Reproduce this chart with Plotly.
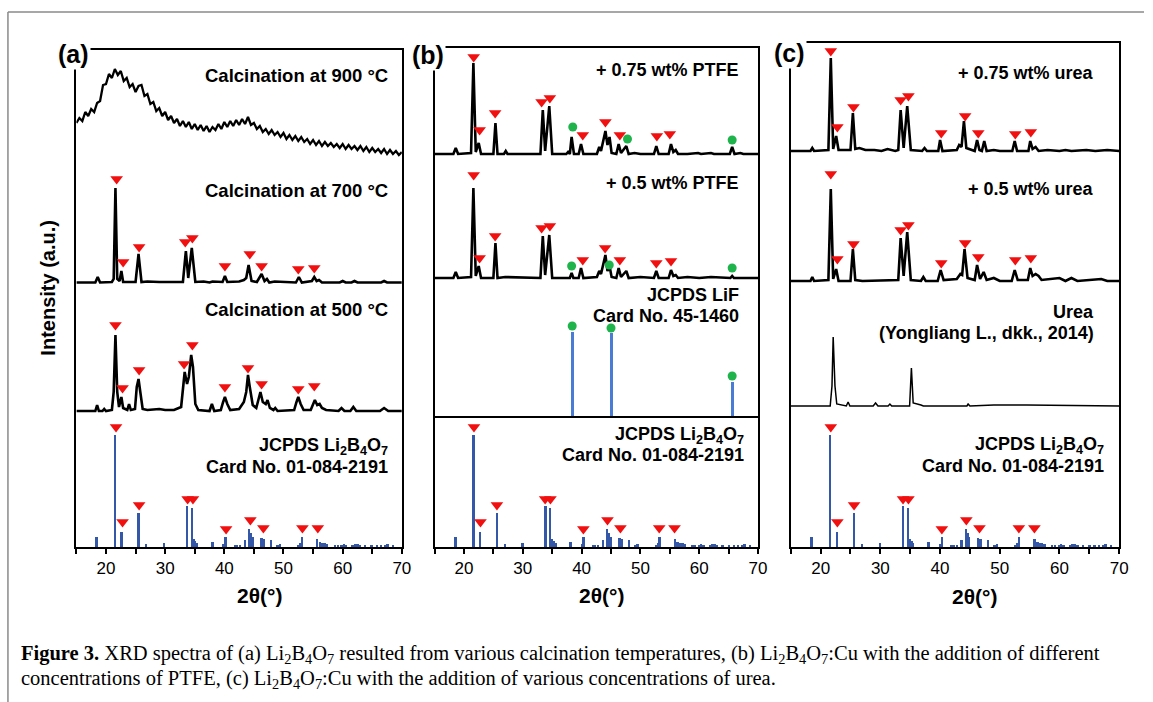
import numpy as np
import plotly.graph_objects as go

W, H = 1153, 702

# ------------------------------------------------------------------ data
angle_ticks = [20, 30, 40, 50, 60, 70]

# JCPDS Li2B4O7 card 01-084-2191 : (2theta, relative intensity)
jcpds_li2b4o7_sticks = [(18.5, 10), (21.6, 112), (22.7, 15), (25.6, 34), (26.9, 3), (29.9, 4),
                        (33.8, 41), (34.6, 39), (34.9, 8), (35.2, 6), (35.5, 4), (38.1, 5),
                        (40.0, 3), (40.3, 10), (41.9, 2), (42.3, 2), (42.8, 2), (43.6, 7),
                        (44.3, 18), (44.6, 14), (44.9, 10), (46.4, 9), (46.8, 8), (48.0, 7),
                        (49.1, 2), (49.5, 3), (52.6, 2), (53.0, 4), (53.2, 10), (55.8, 8),
                        (56.3, 5), (56.7, 4), (57.1, 4), (57.5, 3), (58.8, 2), (59.3, 2),
                        (59.9, 2), (60.3, 3), (60.7, 2), (61.8, 2), (62.2, 3), (62.6, 3),
                        (63.0, 2), (63.9, 2), (65.0, 2), (65.9, 2), (66.6, 2), (67.3, 2),
                        (67.7, 3), (68.6, 2)]
jcpds_li2b4o7_marks = [(21.7, 120), (22.8, 25), (25.6, 42), (33.8, 48), (34.7, 48),
                       (40.3, 18), (44.4, 27), (46.6, 19), (53.2, 19), (55.8, 19)]

# JCPDS LiF card 45-1460
jcpds_lif_sticks = [(38.4, 85), (45.0, 84), (65.6, 35)]
jcpds_lif_marks = [(38.4, 91), (45.0, 89), (65.6, 41)]

# (a) calcination at 900 C : amorphous, sampled every 0.5 deg from 15 deg
calc900_start, calc900_step = 15.0, 0.5
calc900_values = [44, 49, 46, 55, 51, 58, 55, 64, 66, 82, 83, 93, 89, 98, 92, 96, 86, 89, 80, 83,
                  75, 81, 82, 71, 73, 63, 65, 56, 59, 51, 55, 47, 51, 44, 48, 41, 46, 40, 45, 38,
                  43, 37, 42, 36, 41, 35, 40, 37, 43, 38, 45, 40, 46, 41, 47, 42, 48, 43, 50, 42,
                  44, 38, 41, 35, 38, 33, 37, 32, 35, 30, 34, 28, 32, 27, 31, 26, 30, 25, 28, 23,
                  27, 22, 26, 21, 25, 21, 24, 20, 23, 19, 23, 18, 22, 18, 21, 17, 21, 16, 20, 15,
                  19, 15, 18, 14, 18, 13, 17, 13, 16, 12, 15]

calc700 = [(15, 0.5), (18.2, 0.5), (18.6, 6), (19.0, 0.5), (21.0, 1), (21.3, 4), (21.6, 95), (21.9, 4),
           (22.3, 2), (22.6, 12), (22.9, 1), (25.0, 1), (25.5, 29), (26.0, 1), (27.0, 1.5), (29, 1),
           (33.0, 1), (33.5, 32), (33.9, 5), (34.5, 35), (35.1, 1), (36.5, 1.5), (37.5, 0.5),
           (38.0, 1.5), (39.7, 1), (40.1, 7), (40.5, 1), (42.5, 1.5), (43.3, 3), (43.7, 5),
           (44.1, 18), (44.6, 2), (45.5, 1), (46.3, 9), (46.8, 2), (47.2, 4), (47.6, 0.5), (48.5, 1.5),
           (52.1, 0.5), (52.6, 6), (53.1, 0.5), (54.8, 2), (55.2, 6), (55.6, 2), (56.0, 3), (56.5, 0.5),
           (59.5, 0.5), (60.0, 2), (60.5, 0.5), (61.5, 0.5), (62.0, 2), (62.5, 0.5), (66.5, 0.5),
           (67.0, 2), (67.5, 0.5), (70, 0.5)]
calc700_marks = [(21.8, 104), (22.9, 21), (25.6, 36), (33.4, 41), (34.6, 45), (40.1, 17),
                 (44.3, 29), (46.3, 17), (52.5, 14), (55.2, 15)]

calc500 = [(15, 1), (17, 1), (18.2, 1), (18.5, 7), (18.8, 1), (19.4, 1), (19.7, 3), (20.0, 1), (21.0, 2),
           (21.3, 20), (21.6, 77), (21.9, 20), (22.2, 5), (22.6, 15), (22.9, 4), (23.6, 2), (23.9, 8),
           (24.2, 2), (24.9, 3), (25.2, 25), (25.5, 33), (25.8, 20), (26.2, 3), (27, 2), (29, 3), (30, 2),
           (31.5, 2), (32.7, 5), (33.0, 25), (33.3, 40), (33.7, 28), (34.0, 35), (34.4, 57), (34.7, 45),
           (35.1, 8), (35.6, 2), (37.5, 1), (37.9, 8), (38.3, 1), (39.4, 2), (39.8, 10), (40.1, 15),
           (40.5, 8), (41.0, 2), (42.5, 3), (43.0, 8), (43.3, 10), (43.7, 20), (44.0, 37), (44.3, 25),
           (44.8, 7), (45.4, 4), (45.8, 12), (46.1, 20), (46.5, 10), (47.0, 8), (47.3, 12), (47.7, 4),
           (48.3, 2), (48.6, 4), (49.0, 1), (51.8, 2), (52.2, 10), (52.5, 15), (52.9, 8), (53.4, 2),
           (54.6, 2), (55.0, 8), (55.3, 12), (55.7, 7), (56.1, 8), (56.5, 4), (57.2, 2), (59.3, 1),
           (59.8, 4), (60.3, 1), (61.3, 1), (61.8, 5), (62.3, 1), (66.3, 1), (67.0, 4), (67.7, 1), (70, 1)]
calc500_marks = [(21.6, 87), (22.8, 24), (25.6, 42), (33.2, 48), (34.6, 67), (40.1, 25),
                 (44.0, 44), (46.3, 28), (52.5, 23), (55.2, 26)]

# (b) PTFE
ptfe075 = [(15, 1), (18.2, 1), (18.6, 7), (19.0, 1), (21.2, 2), (21.6, 92), (22.0, 3), (22.5, 12), (22.9, 1),
           (25.0, 1), (25.35, 32), (25.7, 1), (26.8, 1), (27.1, 4), (27.4, 1), (33.0, 1), (33.4, 45),
           (33.8, 4), (34.5, 49), (35.0, 1), (37.4, 1), (37.7, 3), (38.0, 1), (38.3, 18), (38.7, 1),
           (39.5, 1), (39.9, 11), (40.3, 1), (42.6, 1), (43.0, 8), (43.3, 4), (44.05, 24), (44.4, 10),
           (44.75, 18), (45.1, 2), (45.9, 1), (46.3, 11), (46.7, 2), (47.6, 9), (48.0, 1), (49, 2),
           (50, 1), (52.3, 1), (52.7, 9), (53.1, 1), (54.8, 1), (55.2, 11), (55.6, 3), (56.0, 5),
           (56.4, 1), (58, 1), (59.8, 2), (60.3, 1), (62, 2), (62.5, 1), (65.2, 1), (65.6, 8), (66.0, 1),
           (67, 2), (67.5, 1), (70, 1)]
ptfe075_marks = [(21.65, 98), (22.66, 25), (25.3, 42), (33.2, 53), (34.6, 57), (40.2, 20),
                 (44.05, 33), (46.5, 20), (52.8, 19), (55.0, 21)]
ptfe075_lif = [(38.5, 28), (47.8, 16), (65.6, 15)]

ptfe050 = [(15, 1), (18.2, 1), (18.6, 7), (19.0, 1), (21.2, 2), (21.6, 91), (22.0, 3), (22.5, 13), (22.9, 1),
           (25.0, 1), (25.35, 36), (25.7, 1), (27, 2), (33.0, 1), (33.4, 43), (33.8, 4), (34.5, 44),
           (35.0, 1), (38.0, 1), (38.3, 6), (38.6, 1), (39.5, 1), (39.9, 11), (40.3, 1), (42.6, 2),
           (43.0, 8), (43.3, 5), (44.05, 24), (44.4, 8), (44.75, 13), (45.1, 2), (45.9, 1), (46.3, 11),
           (46.7, 2), (47.6, 8), (48.0, 1), (50, 2), (52.3, 1), (52.7, 8), (53.1, 1), (54.8, 1), (55.2, 9),
           (55.6, 3), (56.0, 4), (56.4, 1), (58, 2), (60, 1), (62, 2), (65.3, 1), (65.6, 3), (65.9, 1), (70, 1)]
ptfe050_marks = [(21.65, 104), (22.66, 21), (25.3, 43), (33.2, 51), (34.6, 53), (40.2, 19),
                 (44.0, 31), (46.5, 19), (52.7, 16), (55.2, 18)]
ptfe050_lif = [(38.3, 13), (44.7, 14), (65.6, 11)]

# (c) urea
urea075 = [(15, 2), (18.3, 2), (18.6, 5), (18.9, 2), (21.3, 3), (21.7, 95), (22.1, 4), (22.6, 17), (23.0, 3),
           (25.0, 3), (25.4, 40), (25.8, 4), (26.5, 5), (27.5, 3), (29, 3), (30.2, 2), (31.2, 4), (32.5, 2),
           (33.0, 3), (33.4, 43), (33.9, 5), (34.5, 47), (35.1, 3), (37, 2), (37.4, 5), (37.8, 2),
           (39.7, 2), (40.0, 13), (40.4, 2), (42.8, 3), (43.2, 8), (43.6, 6), (44.0, 32), (44.4, 5),
           (45.8, 2), (46.2, 13), (46.6, 3), (47.0, 2), (47.4, 12), (47.8, 2), (49, 3), (50, 2), (52.1, 2),
           (52.5, 12), (52.9, 2), (54.8, 2), (55.1, 12), (55.5, 4), (56, 6), (56.5, 2), (58, 3), (60, 2),
           (61, 3), (62, 2), (64.5, 3), (66, 2), (68, 3), (70, 2)]
urea075_marks = [(21.7, 102), (22.8, 26), (25.5, 46), (33.4, 53), (34.7, 57), (40.2, 20),
                 (44.2, 37), (46.4, 20), (52.6, 19), (55.2, 21)]

urea050 = [(15, 1), (18.3, 1), (18.6, 5), (18.9, 1), (21.3, 2), (21.7, 93), (22.1, 3), (22.6, 13), (23.0, 1),
           (25.0, 1), (25.4, 33), (25.8, 2), (27, 1), (33.0, 2), (33.4, 44), (33.9, 6), (34.5, 50), (35.1, 2),
           (36.8, 1), (37.2, 5), (37.6, 1), (39.6, 1), (40.1, 12), (40.6, 2), (42.8, 3), (43.4, 8),
           (43.7, 7), (44.1, 33), (44.6, 4), (45.8, 2), (46.2, 17), (46.7, 3), (47.3, 10), (47.8, 2),
           (49, 4), (50, 1), (52.0, 1), (52.5, 12), (53.0, 2), (54.7, 2), (55.1, 14), (55.5, 6), (56, 8),
           (56.5, 6), (57, 2), (60, 4), (61, 1), (62, 4), (63, 1), (67, 3), (68, 1), (70, 1)]
urea050_marks = [(21.7, 108), (22.8, 23), (25.5, 38), (33.4, 52), (34.7, 57), (40.2, 19),
                 (44.2, 39), (46.4, 25), (52.6, 22), (55.2, 24)]

urea_ref = [(15, 0), (21.6, 0), (21.9, 20), (22.1, 69), (22.4, 20), (22.7, 2), (24.3, 0), (24.6, 4),
            (24.9, 0), (28.8, 0), (29.2, 3), (29.6, 0), (31.3, 0), (31.6, 2), (31.9, 0), (34.9, 0),
            (35.2, 38), (35.5, 3), (36.8, 1), (37.2, 0), (44.5, 0), (44.7, 2), (45, 0), (49, 1),
            (54.5, 1), (70, 0)]

# ------------------------------------------------------------------ layout geometry (pixels)
panels = {
    'a': dict(x='x', y='y', left=77, right=405, top=50, bottom=547),
    'b': dict(x='x2', y='y2', left=438, right=764, top=48, bottom=547),
    'c': dict(x='x3', y='y3', left=797, right=1128, top=43, bottom=547),
}
# vertical offsets of each pattern (axis units = pixels above the bottom axis)
offsets = {
    'a900': 380, 'a700': 264, 'a500': 135, 'a_jc': 0,
    'b075': 392, 'b050': 268, 'b_lif': 130, 'b_jc': 0,
    'c075': 394, 'c050': 265, 'c_urea': 141, 'c_jc': 0,
}

BLACK = 'black'
RED = '#f01010'
GREEN = '#1fb34c'
STICK_BLUE = '#3557a8'
LIF_BLUE = '#4a7cd3'
LINE_W = 2.6

fig = go.Figure()


def add_line(xs, ys, off, p, width=LINE_W, color=BLACK):
    fig.add_trace(go.Scatter(x=list(xs), y=[off + v for v in ys], mode='lines',
                             line=dict(color=color, width=width), xaxis=panels[p]['x'],
                             yaxis=panels[p]['y'], showlegend=False, hoverinfo='skip'))


def add_pattern(pairs, off, p, width=LINE_W):
    add_line([a for a, _ in pairs], [b for _, b in pairs], off, p, width)


def add_marks(pairs, off, p, symbol='triangle-down', color=RED, size=11):
    fig.add_trace(go.Scatter(x=[a for a, _ in pairs], y=[off + b for _, b in pairs], mode='markers',
                             marker=dict(symbol=symbol, color=color, size=size, line=dict(width=0)),
                             xaxis=panels[p]['x'], yaxis=panels[p]['y'], cliponaxis=False,
                             showlegend=False, hoverinfo='skip'))


def add_sticks(pairs, off, p, color, width):
    fig.add_trace(go.Bar(x=[a for a, _ in pairs], y=[b for _, b in pairs], base=off, width=width,
                         marker=dict(color=color, line=dict(width=0)), xaxis=panels[p]['x'],
                         yaxis=panels[p]['y'], showlegend=False, hoverinfo='skip'))


# panel (a)
calc900_x = calc900_start + calc900_step * np.arange(len(calc900_values))
add_line(calc900_x, calc900_values, offsets['a900'], 'a', width=2.3)
add_pattern(calc700, offsets['a700'], 'a')
add_marks(calc700_marks, offsets['a700'], 'a')
add_pattern(calc500, offsets['a500'], 'a')
add_marks(calc500_marks, offsets['a500'], 'a')
add_sticks(jcpds_li2b4o7_sticks, offsets['a_jc'], 'a', STICK_BLUE, 0.32)
add_marks(jcpds_li2b4o7_marks, offsets['a_jc'], 'a')

# panel (b)
add_pattern(ptfe075, offsets['b075'], 'b')
add_marks(ptfe075_marks, offsets['b075'], 'b')
add_marks(ptfe075_lif, offsets['b075'], 'b', symbol='circle', color=GREEN, size=9)
add_pattern(ptfe050, offsets['b050'], 'b')
add_marks(ptfe050_marks, offsets['b050'], 'b')
add_marks(ptfe050_lif, offsets['b050'], 'b', symbol='circle', color=GREEN, size=9)
add_sticks(jcpds_lif_sticks, offsets['b_lif'], 'b', LIF_BLUE, 0.5)
add_marks(jcpds_lif_marks, offsets['b_lif'], 'b', symbol='circle', color=GREEN, size=9)
add_sticks(jcpds_li2b4o7_sticks, offsets['b_jc'], 'b', STICK_BLUE, 0.32)
add_marks(jcpds_li2b4o7_marks, offsets['b_jc'], 'b')

# panel (c)
add_pattern(urea075, offsets['c075'], 'c')
add_marks(urea075_marks, offsets['c075'], 'c')
add_pattern(urea050, offsets['c050'], 'c')
add_marks(urea050_marks, offsets['c050'], 'c')
add_pattern(urea_ref, offsets['c_urea'], 'c', width=1.5)
add_sticks(jcpds_li2b4o7_sticks, offsets['c_jc'], 'c', STICK_BLUE, 0.32)
add_marks(jcpds_li2b4o7_marks, offsets['c_jc'], 'c')

# ------------------------------------------------------------------ axes
SANS = 'Liberation Sans, Arial, sans-serif'
SERIF = 'Liberation Serif, Times New Roman, serif'
layout_axes = {}
for i, (key, P) in enumerate(panels.items()):
    sx = '' if i == 0 else str(i + 1)
    layout_axes['xaxis' + sx] = dict(
        domain=[P['left'] / W, P['right'] / W], range=[15, 70], anchor=P['y'],
        showline=True, linecolor=BLACK, linewidth=2, mirror=True,
        ticks='outside', ticklen=5, tickwidth=1.5, tickcolor=BLACK,
        tickvals=angle_ticks, tickfont=dict(family=SANS, size=17, color=BLACK),
        minor=dict(dtick=5, tick0=0, ticks='outside', ticklen=5, tickwidth=1.5, tickcolor=BLACK),
        showgrid=False, zeroline=False, fixedrange=True)
    layout_axes['yaxis' + sx] = dict(
        domain=[1 - P['bottom'] / H, 1 - P['top'] / H], range=[0, P['bottom'] - P['top']],
        anchor=P['x'], showline=True, linecolor=BLACK, linewidth=2, mirror=True,
        ticks='', showticklabels=False, showgrid=False, zeroline=False, fixedrange=True)


def xp(p):
    return p / W


def yp(p):
    return 1 - p / H


annotations = []


def label(text, x, y, size=18, anchor='right', bold=True, family=SANS, bg=None, angle=0):
    annotations.append(dict(text=f'<b>{text}</b>' if bold else text, x=xp(x), y=yp(y),
                            xref='paper', yref='paper', xanchor=anchor, yanchor='middle',
                            showarrow=False, textangle=angle,
                            font=dict(family=family, size=size, color=BLACK),
                            bgcolor=bg, borderpad=1))


LBO = 'Li<sub>2</sub>B<sub>4</sub>O<sub>7</sub>'
label('Calcination at 900 °C', 393, 76, size=18.5)
label('Calcination at 700 °C', 393, 190, size=18.5)
label('Calcination at 500 °C', 393, 309, size=18.5)
label('JCPDS ' + LBO, 393, 446)
label('Card No. 01-084-2191', 393, 467)

label('+ 0.75 wt% PTFE', 747, 70)
label('+ 0.5 wt% PTFE', 747, 183)
label('JCPDS LiF', 747, 295)
label('Card No. 45-1460', 747, 316)
label('JCPDS ' + LBO, 752, 435)
label('Card No. 01-084-2191', 752, 455)

label('+ 0.75 wt% urea', 1105, 73)
label('+ 0.5 wt% urea', 1105, 189)
label('Urea', 1105, 312)
label('(Yongliang L., dkk., 2014)', 1105, 333)
label('JCPDS ' + LBO, 1115, 445)
label('Card No. 01-084-2191', 1115, 466)

label('(a)', 74, 54, size=25, anchor='center', bg='white')
label('(b)', 431, 55, size=25, anchor='center', bg='white')
label('(c)', 796, 53, size=25, anchor='center', bg='white')

label('Intensity (a.u.)', 48, 288, size=20, anchor='center', angle=-90)
label('2θ(°)', 262, 595, size=21, anchor='center')
label('2θ(°)', 606, 595, size=21, anchor='center')
label('2θ(°)', 982, 596, size=21, anchor='center')

label('<b>Figure 3.</b> XRD spectra of (a) ' + LBO + ' resulted from various calcination temperatures, (b) '
      + LBO + ':Cu with the addition of different', 19, 654, size=20.5, anchor='left', bold=False,
      family=SERIF)
label('concentrations of PTFE, (c) ' + LBO + ':Cu with the addition of various concentrations of urea.',
      19, 679, size=20.5, anchor='left', bold=False, family=SERIF)

shapes = [
    # divider under the LiF reference pattern in panel (b)
    dict(type='line', xref='x2 domain', x0=0, x1=1, yref='y2', y0=offsets['b_lif'], y1=offsets['b_lif'],
         line=dict(color=BLACK, width=2)),
    # page frame
    dict(type='line', xref='paper', yref='paper', x0=xp(8), x1=1, y0=yp(12), y1=yp(12),
         line=dict(color='#8a8a8a', width=1.5)),
    dict(type='line', xref='paper', yref='paper', x0=xp(8), x1=xp(8), y0=yp(12), y1=0,
         line=dict(color='#8a8a8a', width=1.5)),
]

fig.update_layout(width=W, height=H, margin=dict(l=0, r=0, t=0, b=0), paper_bgcolor='white',
                  plot_bgcolor='white', barmode='overlay', bargap=0, showlegend=False,
                  annotations=annotations, shapes=shapes, **layout_axes)

fig.write_html('out.html', config={'displayModeBar': False},
               post_script="document.body.style.margin='0';document.body.style.overflow='hidden';")
